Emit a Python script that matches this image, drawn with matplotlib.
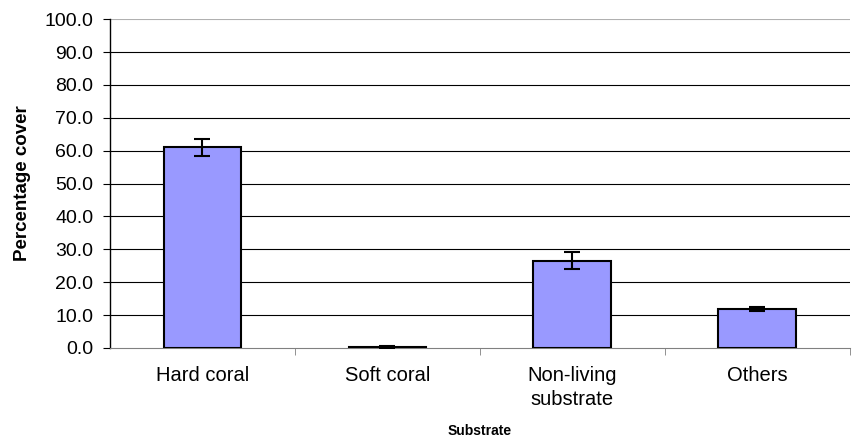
import numpy as np
import matplotlib.pyplot as plt

plt.rcParams['font.family'] = ['Liberation Sans', 'DejaVu Sans']

categories = ['Hard coral', 'Soft coral', 'Non-living\nsubstrate', 'Others']
cover = [61.0, 0.3, 26.5, 11.8]
errors = [2.7, 0.2, 2.6, 0.7]
y_ticks = np.arange(0, 101, 10)

fig = plt.figure(figsize=(8.53, 4.42), dpi=100)
ax = fig.add_axes([0.129, 0.2127, 0.867, 0.744])

x = np.arange(len(categories))
ax.bar(x, cover, width=0.42, color='#9999FF', edgecolor='black', linewidth=1.5, zorder=3)
ax.errorbar(x, cover, yerr=errors, fmt='none', ecolor='black', elinewidth=1.5,
            capsize=6, capthick=1.5, zorder=4)

ax.set_xlim(-0.5, 3.5)
ax.set_ylim(0, 100)
ax.set_yticks(y_ticks)
ax.set_yticklabels([f'{v:.1f}' for v in y_ticks], fontsize=14)
for v in y_ticks[1:]:
    ax.axhline(v, color='black' if v < 100 else '#b0b0b0', linewidth=0.8, zorder=1)

ax.set_xticks(x)
ax.set_xticklabels(categories, fontsize=14.5, linespacing=1.3)
ax.tick_params(axis='x', which='major', length=0, pad=13)
ax.set_xticks(np.arange(0.5, 3.6, 1), minor=True)
ax.tick_params(axis='x', which='minor', length=5, direction='out', color='#808080')
ax.tick_params(axis='y', length=5, direction='out', pad=7)

for s in ['top', 'right']:
    ax.spines[s].set_visible(False)
ax.spines['bottom'].set_color('#808080')
ax.spines['left'].set_linewidth(1.0)

ax.set_ylabel('Percentage cover', fontsize=13.5, fontweight='bold', labelpad=10)
ax.set_xlabel('Substrate', fontsize=10, fontweight='bold', labelpad=11)

plt.savefig('out.png', dpi=100)
